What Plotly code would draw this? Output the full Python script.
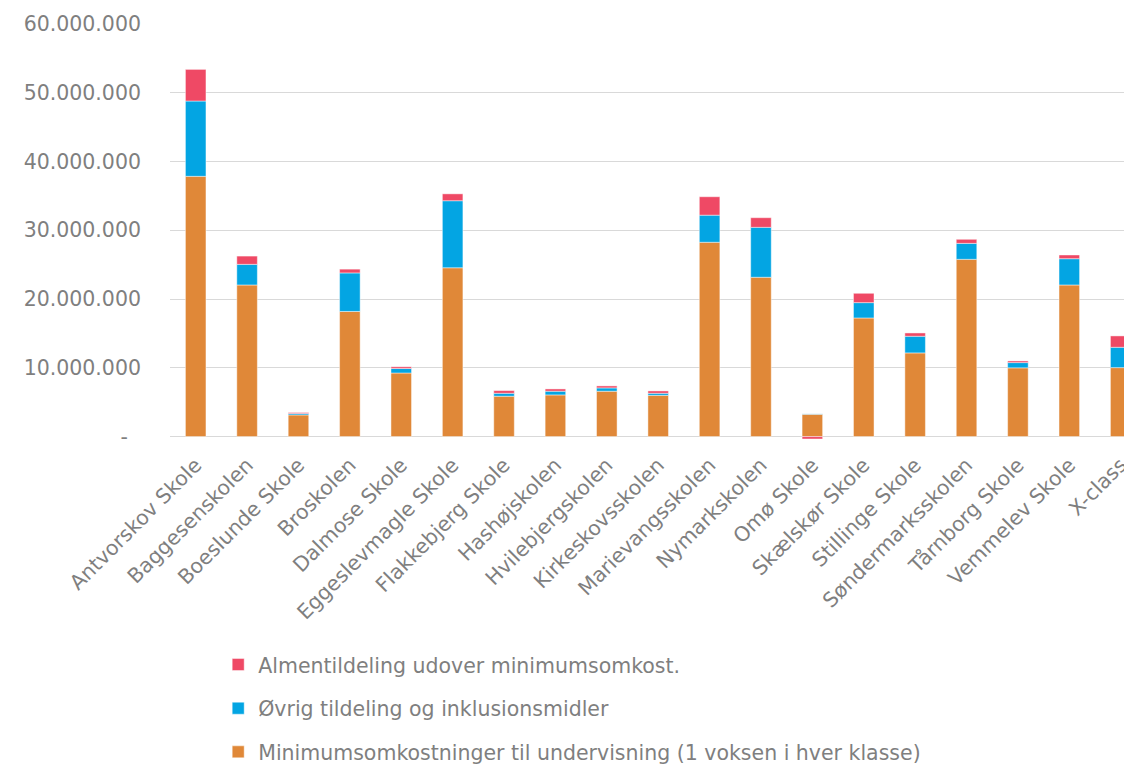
import plotly.graph_objects as go

categories = ["Antvorskov Skole", "Baggesenskolen", "Boeslunde Skole", "Broskolen",
              "Dalmose Skole", "Eggeslevmagle Skole", "Flakkebjerg Skole", "Hashøjskolen",
              "Hvilebjergskolen", "Kirkeskovsskolen", "Marievangsskolen", "Nymarkskolen",
              "Omø Skole", "Skælskør Skole", "Stillinge Skole", "Søndermarksskolen",
              "Tårnborg Skole", "Vemmelev Skole", "X-class"]

minimum = [37850000, 22050000, 3150000, 18200000, 9250000, 24550000, 5870000, 6060000,
           6600000, 6000000, 28260000, 23170000, 3250000, 17250000, 12170000, 25780000,
           10000000, 22050000, 10030000]
oevrig = [10950000, 3000000, 200000, 5600000, 650000, 9750000, 430000, 540000,
          480000, 300000, 3940000, 7260000, 50000, 2230000, 2420000, 2320000,
          760000, 3820000, 2960000]
almen = [4600000, 1200000, 150000, 550000, 250000, 1000000, 390000, 330000,
         290000, 340000, 2680000, 1400000, -350000, 1360000, 480000, 590000,
         240000, 540000, 1650000]

names = ["Minimumsomkostninger til undervisning (1 voksen i hver klasse)",
         "Øvrig tildeling og inklusionsmidler",
         "Almentildeling udover minimumsomkost."]
colors = ["#E08838", "#03A5E3", "#EF4965"]
ranks = [3, 2, 1]

tickvals = [0, 10000000, 20000000, 30000000, 40000000, 50000000, 60000000]
ticktext = ["-\u00a0\u00a0", "10.000.000", "20.000.000", "30.000.000",
            "40.000.000", "50.000.000", "60.000.000"]

fig = go.Figure()
for i, (vals, name, col, rk) in enumerate(zip([minimum, oevrig, almen], names, colors, ranks)):
    fig.add_trace(go.Bar(
        x=list(range(len(categories))), y=vals, name=name,
        marker=dict(color=col, line=dict(color="rgba(255,255,255,0.45)", width=1)),
        width=0.4, legendgroup=f"g{i}", legendrank=rk,
    ))

font_family = "DejaVu Sans"
gray = "#7F7F7F"
fs = 20.5

fig.update_layout(
    barmode="relative",
    width=1124, height=758,
    margin=dict(l=162, r=0, t=16, b=327, autoexpand=False),
    paper_bgcolor="white", plot_bgcolor="white",
    font=dict(family=font_family, size=fs, color=gray),
    showlegend=True,
    legend=dict(orientation="v", traceorder="grouped",
                xref="container", yref="container",
                x=0.187, y=0.16, xanchor="left", yanchor="top", tracegroupgap=14,
                font=dict(family=font_family, size=fs, color=gray)),
)
fig.update_xaxes(
    tickvals=list(range(len(categories))), ticktext=categories, tickangle=-45,
    range=[-0.5, 18.22], showgrid=False, zeroline=False, showline=False,
    ticklabelstandoff=9,
    tickfont=dict(family=font_family, size=fs, color=gray),
)
fig.update_yaxes(
    range=[-350000, 60000000], tickvals=tickvals, ticktext=ticktext,
    showgrid=True, gridcolor="#D9D9D9", gridwidth=1.3,
    zeroline=True, zerolinecolor="#D9D9D9", zerolinewidth=1.3,
    ticklabelstandoff=28,
    tickfont=dict(family=font_family, size=fs, color=gray),
)

fig.write_html("out.html")
